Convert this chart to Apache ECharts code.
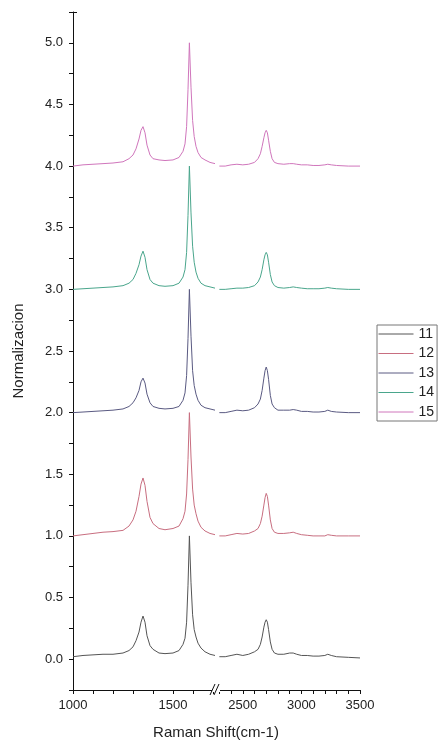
<!DOCTYPE html>
<html>
<head>
<meta charset="utf-8">
<script src="https://cdn.jsdelivr.net/npm/echarts@6/dist/echarts.min.js"></script>
<style>
html,body{margin:0;padding:0;background:#fff;}
#c{width:443px;height:745px;}
</style>
</head>
<body>
<div id="c"></div>
<script>
// ---- data ----
const seriesNames = ['11', '12', '13', '14', '15'];
const xLeft = [1000,1050,1100,1150,1200,1250,1280,1300,1315,1330,1340,1350,1360,1370,1385,1400,1430,1460,1500,1530,1550,1560,1568,1575,1582,1590,1598,1606,1615,1625,1640,1660,1685,1710];
const xRight = [2300,2350,2400,2450,2500,2550,2600,2630,2650,2665,2680,2690,2700,2710,2720,2735,2750,2770,2800,2850,2900,2930,2960,3000,3050,3100,3150,3200,3225,3240,3255,3300,3400,3500];

const left11 = [0.02,0.03,0.035,0.04,0.04,0.05,0.07,0.10,0.15,0.22,0.30,0.35,0.30,0.19,0.11,0.08,0.05,0.045,0.05,0.07,0.12,0.17,0.30,0.60,1.00,0.62,0.36,0.24,0.18,0.13,0.09,0.06,0.04,0.03];
const left12 = [1.00,1.01,1.02,1.03,1.035,1.045,1.08,1.13,1.20,1.32,1.42,1.47,1.41,1.28,1.15,1.10,1.06,1.05,1.06,1.08,1.14,1.20,1.34,1.62,2.00,1.64,1.38,1.25,1.18,1.12,1.07,1.04,1.02,1.01];
const left13 = [2.00,2.005,2.01,2.015,2.02,2.03,2.05,2.08,2.12,2.18,2.25,2.28,2.24,2.15,2.08,2.05,2.035,2.03,2.035,2.05,2.10,2.16,2.30,2.60,3.00,2.62,2.34,2.22,2.15,2.10,2.06,2.04,2.03,2.02];
const left14 = [3.00,3.005,3.01,3.015,3.02,3.03,3.05,3.08,3.13,3.20,3.27,3.31,3.26,3.16,3.08,3.05,3.03,3.025,3.03,3.05,3.10,3.16,3.30,3.60,4.00,3.62,3.35,3.22,3.14,3.09,3.05,3.03,3.02,3.01];
const left15 = [4.00,4.01,4.015,4.02,4.025,4.035,4.06,4.09,4.14,4.22,4.29,4.32,4.27,4.17,4.09,4.06,4.05,4.045,4.05,4.07,4.12,4.18,4.32,4.62,5.00,4.64,4.37,4.24,4.16,4.11,4.07,4.05,4.03,4.02];

const right11 = [0.02,0.02,0.03,0.04,0.03,0.04,0.06,0.08,0.12,0.18,0.26,0.30,0.32,0.30,0.24,0.14,0.08,0.05,0.04,0.04,0.05,0.05,0.04,0.03,0.03,0.025,0.025,0.03,0.04,0.05,0.03,0.02,0.015,0.01];
const right12 = [1.00,1.00,1.01,1.02,1.015,1.02,1.04,1.06,1.10,1.16,1.25,1.31,1.345,1.32,1.25,1.13,1.06,1.03,1.02,1.02,1.025,1.03,1.02,1.01,1.005,1.00,1.00,1.00,1.01,1.02,1.005,1.00,1.00,1.00];
const right13 = [2.00,2.00,2.01,2.02,2.015,2.02,2.04,2.07,2.11,2.18,2.28,2.34,2.37,2.34,2.27,2.14,2.07,2.04,2.02,2.02,2.02,2.025,2.02,2.01,2.01,2.005,2.005,2.01,2.02,2.035,2.01,2.005,2.00,2.00];
const right14 = [3.00,3.00,3.005,3.01,3.01,3.015,3.03,3.06,3.10,3.16,3.24,3.28,3.30,3.28,3.22,3.12,3.06,3.03,3.015,3.01,3.015,3.02,3.015,3.01,3.005,3.005,3.005,3.01,3.015,3.03,3.01,3.005,3.00,3.00];
const right15 = [4.00,4.00,4.01,4.015,4.01,4.015,4.03,4.06,4.10,4.16,4.23,4.27,4.29,4.27,4.21,4.12,4.06,4.03,4.02,4.015,4.02,4.02,4.015,4.01,4.01,4.005,4.005,4.01,4.015,4.025,4.01,4.005,4.00,4.00];

const yTickLabels = [0,0.5,1.0,1.5,2.0,2.5,3.0,3.5,4.0,4.5,5.0];
const yTicks = [-0.25,0,0.25,0.5,0.75,1.0,1.25,1.5,1.75,2.0,2.25,2.5,2.75,3.0,3.25,3.5,3.75,4.0,4.25,4.5,4.75,5.0,5.25];
const xLeftTicks = [1000,1100,1200,1300,1400,1500,1600,1700];
const xLeftLabels = [1000,1500];
const xRightTicks = [2300,2400,2500,2600,2700,2800,2900,3000,3100,3200,3300,3400,3500];
const xRightLabels = [2500,3000,3500];

const leftData = [left11,left12,left13,left14,left15];
const rightData = [right11,right12,right13,right14,right15];
const colors = ['#555555','#c86e80','#5a5a82','#4aa68c','#d076bc'];

// ---- chart ----
const font = 'Liberation Sans, Arial, sans-serif';
const chart = echarts.init(document.getElementById('c'), null, {renderer:'canvas'});
const axisLine = {show:true, onZero:false, lineStyle:{color:'#111', width:1}};

const series = [];
seriesNames.forEach((n,i)=>{
  series.push({
    name:n, type:'line', xAxisIndex:0, yAxisIndex:0, symbol:'none', showSymbol:false,
    lineStyle:{width:1, color:colors[i]}, itemStyle:{color:colors[i]},
    data: xLeft.map((x,k)=>[x,leftData[i][k]])
  });
  series.push({
    name:n, type:'line', xAxisIndex:1, yAxisIndex:1, symbol:'none', showSymbol:false,
    lineStyle:{width:1, color:colors[i]}, itemStyle:{color:colors[i]},
    data: xRight.map((x,k)=>[x,rightData[i][k]])
  });
});

const plain = (v)=>String(Math.round(v));

const option = {
  backgroundColor:'#fff',
  animation:false,
  textStyle:{fontFamily:font},
  grid:[
    {left:73, top:12, width:144, height:678},
    {left:217, top:12, width:143, height:678}
  ],
  xAxis:[
    {type:'value', gridIndex:0, min:1000, max:1720,
     axisLine:axisLine, splitLine:{show:false},
     axisTick:{show:true, inside:false, length:4, customValues:xLeftTicks, lineStyle:{color:'#111'}},
     axisLabel:{customValues:xLeftLabels, formatter:plain, margin:9, fontSize:13, color:'#222', fontFamily:font}},
    {type:'value', gridIndex:1, min:2280, max:3500,
     axisLine:axisLine, splitLine:{show:false},
     axisTick:{show:true, inside:false, length:4, customValues:xRightTicks, lineStyle:{color:'#111'}},
     axisLabel:{customValues:xRightLabels, formatter:plain, margin:9, fontSize:13, color:'#222', fontFamily:font}}
  ],
  yAxis:[
    {type:'value', gridIndex:0, min:-0.25, max:5.25,
     name:'Normalizacion', nameLocation:'middle', nameGap:47, nameRotate:90,
     nameTextStyle:{fontSize:15, color:'#222', fontFamily:font},
     axisLine:axisLine, splitLine:{show:false},
     axisTick:{show:true, length:4, customValues:yTicks, lineStyle:{color:'#111'}},
     axisLabel:{customValues:yTickLabels, margin:10, fontSize:13, color:'#222', fontFamily:font,
       formatter:(v)=>Number(v).toFixed(1)}},
    {type:'value', gridIndex:1, min:-0.25, max:5.25, show:false}
  ],
  legend:{
    orient:'vertical', left:377, top:325,
    data:seriesNames,
    itemWidth:35, itemHeight:14, itemGap:5.5,
    itemStyle:{opacity:0},
    lineStyle:{width:1},
    borderColor:'#777', borderWidth:1, borderRadius:0,
    padding:[2,3,2,1],
    textStyle:{fontSize:14, color:'#222', fontFamily:font}
  },
  graphic:[
    {type:'rect', shape:{x:212, y:688, width:8, height:4}, style:{fill:'#fff'}, z:100},
    {type:'line', shape:{x1:210, y1:695, x2:215, y2:684}, style:{stroke:'#111', lineWidth:1}, z:101},
    {type:'line', shape:{x1:214, y1:695, x2:219, y2:684}, style:{stroke:'#111', lineWidth:1}, z:101},
    {type:'line', shape:{x1:73, y1:12.5, x2:77, y2:12.5}, style:{stroke:'#111', lineWidth:1}, z:101},
    {type:'text', style:{text:'Raman Shift(cm-1)', x:216, y:733, fontSize:15, fill:'#222', fontFamily:font, align:'center', verticalAlign:'middle'}, z:101}
  ],
  series:series
};
chart.setOption(option);
</script>
</body>
</html>
